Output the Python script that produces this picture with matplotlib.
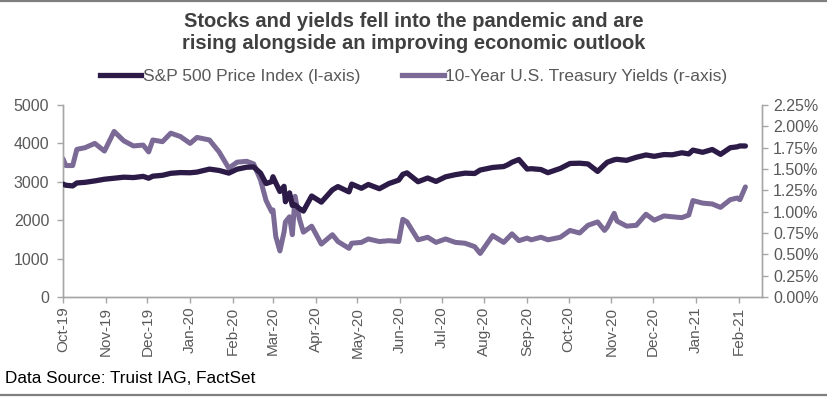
import matplotlib
matplotlib.use("Agg")
import matplotlib.pyplot as plt
import matplotlib.dates as mdates
from matplotlib.ticker import FuncFormatter, MultipleLocator
import pandas as pd

plt.rcParams['font.family'] = ['Liberation Sans', 'DejaVu Sans']

# dates as placed on the chart, S&P 500 level, 10-year yield (%)
dates = [
    "2019-10-01", "2019-10-03", "2019-10-08", "2019-10-11", "2019-10-17", "2019-10-24",
    "2019-10-31", "2019-11-07", "2019-11-14", "2019-11-21", "2019-11-28", "2019-12-02",
    "2019-12-05", "2019-12-12", "2019-12-18", "2019-12-25", "2020-01-01", "2020-01-06",
    "2020-01-15", "2020-01-22", "2020-01-29", "2020-02-04", "2020-02-11", "2020-02-16",
    "2020-02-21", "2020-02-25", "2020-02-29", "2020-03-01", "2020-03-03", "2020-03-06",
    "2020-03-09", "2020-03-10", "2020-03-13", "2020-03-15", "2020-03-17", "2020-03-20",
    "2020-03-23", "2020-03-29", "2020-04-05", "2020-04-13", "2020-04-17", "2020-04-25",
    "2020-04-27", "2020-05-04", "2020-05-09", "2020-05-17", "2020-05-24", "2020-05-31",
    "2020-06-03", "2020-06-06", "2020-06-14", "2020-06-21", "2020-06-27", "2020-07-04",
    "2020-07-11", "2020-07-18", "2020-07-25", "2020-07-29", "2020-08-07", "2020-08-15",
    "2020-08-18", "2020-08-21", "2020-08-26", "2020-09-01", "2020-09-04", "2020-09-11",
    "2020-09-16", "2020-09-25", "2020-10-02", "2020-10-09", "2020-10-15", "2020-10-22",
    "2020-10-27", "2020-10-29", "2020-11-03", "2020-11-05", "2020-11-12", "2020-11-19",
    "2020-11-26", "2020-12-02", "2020-12-09", "2020-12-15", "2020-12-22", "2020-12-27",
    "2020-12-30", "2021-01-06", "2021-01-13", "2021-01-19", "2021-01-26", "2021-01-31",
    "2021-02-02", "2021-02-06",
]
spx = [
    2940, 2910, 2893, 2970, 2986, 3023,
    3067, 3093, 3120, 3110, 3141, 3093,
    3146, 3169, 3221, 3240, 3235, 3253,
    3330, 3295, 3226, 3328, 3380, 3386,
    3225, 2954, 3003, 3130, 2972, 2747,
    2882, 2481, 2711, 2386, 2398, 2305,
    2237, 2630, 2470, 2790, 2875, 2737,
    2940, 2831, 2930, 2820, 2955, 3044,
    3194, 3232, 3002, 3098, 3009, 3130,
    3185, 3225, 3216, 3306, 3373, 3397,
    3444, 3508, 3580, 3332, 3341, 3319,
    3237, 3348, 3477, 3484, 3465, 3270,
    3444, 3509, 3573, 3585, 3558, 3638,
    3699, 3663, 3709, 3703, 3756, 3726,
    3825, 3768, 3841, 3714, 3887, 3910,
    3934, 3932,
]
ust10 = [
    1.62, 1.54, 1.54, 1.73, 1.75, 1.80,
    1.71, 1.94, 1.83, 1.77, 1.78, 1.70,
    1.84, 1.82, 1.92, 1.88, 1.80, 1.87,
    1.84, 1.70, 1.51, 1.58, 1.59, 1.56,
    1.37, 1.13, 1.00, 1.02, 0.71, 0.54,
    0.76, 0.88, 0.94, 0.73, 1.18, 0.92,
    0.76, 0.83, 0.62, 0.73, 0.65, 0.57,
    0.63, 0.64, 0.68, 0.65, 0.66, 0.65,
    0.91, 0.88, 0.67, 0.70, 0.64, 0.68,
    0.64, 0.63, 0.59, 0.51, 0.72, 0.64,
    0.69, 0.74, 0.66, 0.69, 0.67, 0.70,
    0.67, 0.70, 0.78, 0.75, 0.84, 0.88,
    0.78, 0.82, 0.98, 0.89, 0.83, 0.84,
    0.97, 0.90, 0.95, 0.94, 0.93, 0.96,
    1.13, 1.10, 1.09, 1.05, 1.14, 1.16,
    1.14, 1.29,
]
month_ticks = pd.date_range("2019-10-01", "2021-02-01", freq="MS")

x = pd.to_datetime(dates)
spx_color = "#2c1a47"
ust_color = "#7b6996"
axis_gray = "#a6a6a6"
text_gray = "#595959"

fig = plt.figure(figsize=(8.27, 3.98), dpi=100)
ax = fig.add_axes([0.0762, 0.2538, 0.8452, 0.4824])
ax2 = ax.twinx()

ax.plot(x, spx, color=spx_color, lw=3.8, solid_capstyle="round", zorder=3)
ax2.plot(x, ust10, color=ust_color, lw=3.6, solid_capstyle="round", zorder=2)
ax.set_zorder(ax2.get_zorder() + 1)
ax.patch.set_visible(False)

ax.set_ylim(0, 5000)
ax.yaxis.set_major_locator(MultipleLocator(1000))
ax2.set_ylim(0, 2.25)
ax2.yaxis.set_major_locator(MultipleLocator(0.25))
ax2.yaxis.set_major_formatter(FuncFormatter(lambda v, p: f"{v:.2f}%"))

ax.set_xlim(pd.Timestamp("2019-10-01"), pd.Timestamp("2021-02-18"))
ax.set_xticks(month_ticks)
ax.xaxis.set_major_formatter(mdates.DateFormatter("%b-%y"))

for a in (ax, ax2):
    a.spines["top"].set_visible(False)
    for s in ("left", "right", "bottom"):
        a.spines[s].set_color(axis_gray)
        a.spines[s].set_linewidth(1.0)
    a.tick_params(axis="both", colors=axis_gray, labelcolor=text_gray,
                  labelsize=11.5, length=4, width=1.0, direction="out")
ax.tick_params(axis="x", labelrotation=90, labelsize=11, pad=3)
ax.tick_params(axis="y", pad=6)
ax2.tick_params(axis="y", pad=4)

fig.text(0.5, 0.918, "Stocks and yields fell into the pandemic and are\n"
         "rising alongside an improving economic outlook",
         ha="center", va="center", fontsize=14.5, fontweight="bold",
         color="#404040", linespacing=1.2)

handles = [plt.Line2D([], [], color=spx_color, lw=3.8),
           plt.Line2D([], [], color=ust_color, lw=3.8)]
fig.legend(handles, ["S&P 500 Price Index (l-axis)", "10-Year U.S. Treasury Yields (r-axis)"],
           loc="center", bbox_to_anchor=(0.5, 0.808), ncol=2, frameon=False,
           fontsize=12.5, handlelength=2.4, handletextpad=0.1, columnspacing=2.4,
           labelcolor=text_gray)

fig.text(0.006, 0.05, "Data Source: Truist IAG, FactSet", ha="left", va="center",
         fontsize=12.3, color="black")

fig.add_artist(plt.Line2D([0, 1], [0.997, 0.997], color="#7f7f7f", lw=1.6, transform=fig.transFigure))
fig.add_artist(plt.Line2D([0, 1], [0.007, 0.007], color="#7f7f7f", lw=1.6, transform=fig.transFigure))

fig.savefig("out.png", dpi=100)
